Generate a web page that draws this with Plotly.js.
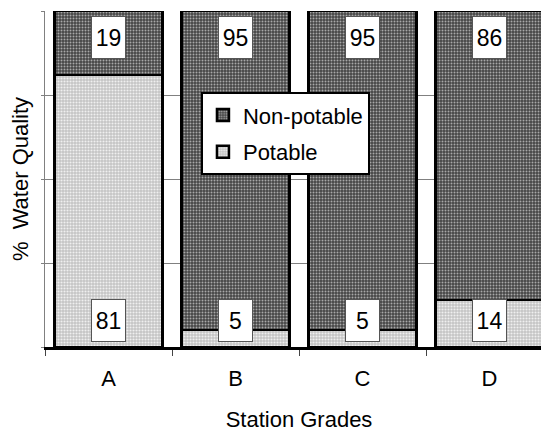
<!DOCTYPE html>
<html>
<head>
<meta charset="utf-8">
<script src="https://cdn.plot.ly/plotly-3.0.1.min.js"></script>
<style>
html,body{margin:0;padding:0;overflow:hidden;background:#fff;width:541px;height:432px;}
#chart{width:560px;height:432px;}
</style>
</head>
<body>
<div id="chart"></div>
<script>
const categories = ["A", "B", "C", "D"];
const potable = [81, 5, 5, 14];
const nonPotable = [19, 95, 95, 86];
const seriesNames = ["Potable", "Non-potable"];
const yTicks = [0, 25, 50, 75, 100];

const font = "Liberation Sans, Arial, sans-serif";

const traces = [
  {
    type: "bar", name: seriesNames[0], x: categories, y: potable, legendgroup: "p", legendrank: 2,
    marker: {color: "#cdcdcd", line: {color: "#000", width: 2.5},
      pattern: {shape: ".", bgcolor: "#c4c4c4", fgcolor: "#efefef", size: 3, solidity: 0.4, fillmode: "replace"}},
    hoverinfo: "none"
  },
  {
    type: "bar", name: seriesNames[1], x: categories, y: nonPotable, legendgroup: "n", legendrank: 1,
    marker: {color: "#666", line: {color: "#000", width: 2.5},
      pattern: {shape: ".", bgcolor: "#454545", fgcolor: "#a8a8a8", size: 3, solidity: 0.35, fillmode: "replace"}},
    hoverinfo: "none"
  }
];

const annotations = [];
categories.forEach((c, i) => {
  annotations.push({x: c, y: 92, xref: "x", yref: "y", text: String(nonPotable[i]), showarrow: false,
    bgcolor: "#fff", bordercolor: "#555", borderwidth: 1, borderpad: 1, width: 31, height: 39,
    font: {family: font, size: 23, color: "#000"}});
  annotations.push({x: c, y: 8, xref: "x", yref: "y", text: String(potable[i]), showarrow: false,
    bgcolor: "#fff", bordercolor: "#555", borderwidth: 1, borderpad: 1, width: 31, height: 39,
    font: {family: font, size: 23, color: "#000"}});
});

const layout = {
  width: 560, height: 432,
  margin: {l: 45, r: 7, t: 11, b: 85},
  paper_bgcolor: "#fff", plot_bgcolor: "#fff",
  barmode: "stack", bargap: 0.15,
  font: {family: font, size: 22, color: "#000"},
  xaxis: {
    type: "category", tickson: "boundaries", ticks: "outside", ticklen: 6, tickcolor: "#444", tickwidth: 1,
    showline: true, linecolor: "#000", linewidth: 2.5, showgrid: false,
    tickfont: {family: font, size: 22}, ticklabelstandoff: 10,
    title: {text: "Station Grades", font: {family: font, size: 22}, standoff: 23}
  },
  yaxis: {
    range: [0, 100], tickvals: yTicks, showticklabels: false, ticks: "outside", ticklen: 3, tickcolor: "#808080",
    showgrid: true, gridcolor: "#808080", gridwidth: 1, zeroline: false,
    showline: true, linecolor: "#808080", linewidth: 1,
    title: {text: "%\u00a0 Water Quality", font: {family: font, size: 22}, standoff: 6}
  },
  legend: {
    x: 0.307, y: 0.758, xanchor: "left", yanchor: "top",
    bgcolor: "#fff", bordercolor: "#000", borderwidth: 2,
    font: {family: font, size: 22, color: "#000"},
    traceorder: "grouped", tracegroupgap: 5, itemwidth: 30
  },
  showlegend: true,
  annotations: annotations
};

Plotly.newPlot("chart", traces, layout, {displayModeBar: false, staticPlot: true});
</script>
</body>
</html>
